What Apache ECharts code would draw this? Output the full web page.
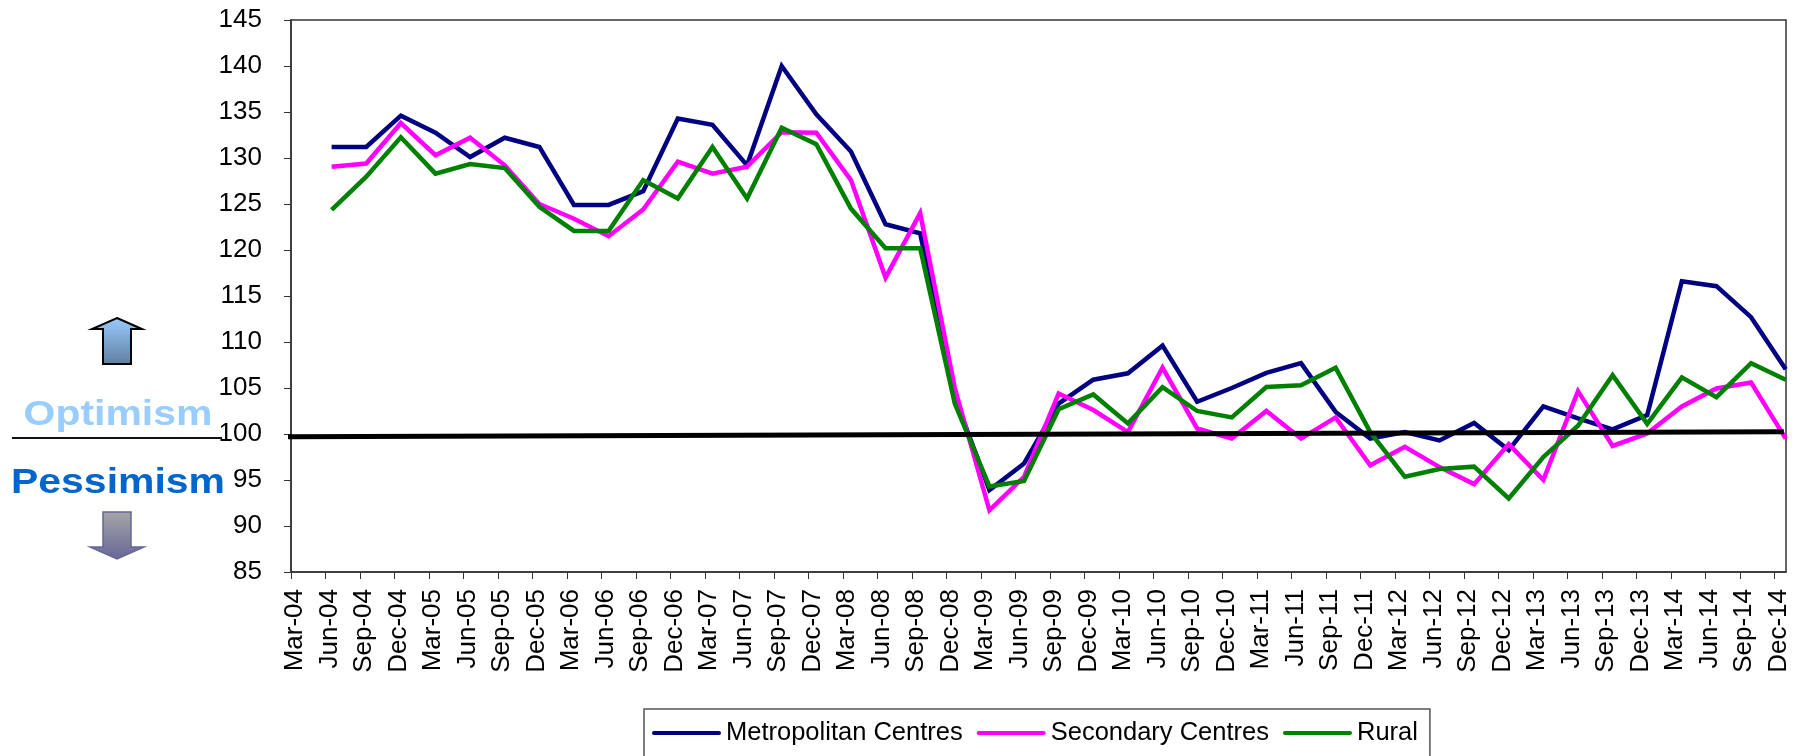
<!DOCTYPE html>
<html><head><meta charset="utf-8">
<style>html,body{margin:0;padding:0;background:#fff}#c{width:1793px;height:756px}</style>
<script src="https://cdn.jsdelivr.net/npm/echarts@6/dist/echarts.min.js"></script>
</head><body><div id="c"></div>
<script>
const categories = ["Mar-04","Jun-04","Sep-04","Dec-04","Mar-05","Jun-05","Sep-05","Dec-05","Mar-06","Jun-06","Sep-06","Dec-06","Mar-07","Jun-07","Sep-07","Dec-07","Mar-08","Jun-08","Sep-08","Dec-08","Mar-09","Jun-09","Sep-09","Dec-09","Mar-10","Jun-10","Sep-10","Dec-10","Mar-11","Jun-11","Sep-11","Dec-11","Mar-12","Jun-12","Sep-12","Dec-12","Mar-13","Jun-13","Sep-13","Dec-13","Mar-14","Jun-14","Sep-14","Dec-14"];
const metropolitan = [null,131.2,131.2,134.6,132.75,130.1,132.2,131.2,124.9,124.9,126.4,134.3,133.6,129.2,140.0,134.75,130.7,122.8,121.8,104.0,93.9,96.8,103.3,105.9,106.6,109.6,103.5,105.0,106.65,107.7,102.4,99.5,100.2,99.3,101.2,98.25,103.0,101.7,100.5,102.05,116.6,116.07,112.7,107.05];
const secondary = [null,129.06,129.4,133.8,130.3,132.2,129.2,125.0,123.4,121.5,124.4,129.6,128.3,129.06,132.8,132.75,127.6,117.0,124.0,105.0,91.7,95.35,104.4,102.6,100.2,107.2,100.6,99.5,102.5,99.5,101.8,96.6,98.6,96.4,94.55,98.9,95.0,104.66,98.7,100.06,103.0,104.95,105.6,99.5];
const rural = [null,124.35,127.97,132.25,128.3,129.35,128.9,124.7,122.07,122.07,127.6,125.6,131.2,125.6,133.3,131.5,124.5,120.2,120.2,103.3,94.3,94.9,102.7,104.3,101.15,105.1,102.5,101.8,105.1,105.3,107.2,100.2,95.35,96.2,96.45,93.0,97.5,100.9,106.4,101.1,106.15,104.0,107.7,105.9];
const referenceLine = [[-0.29,99.7],[43.27,100.25]];
const seriesNames = ["Metropolitan Centres","Secondary Centres","Rural"];
const seriesColors = ["#000080","#FF00FF","#008000"];

const font = "'Liberation Sans', Arial, sans-serif";
const chart = echarts.init(document.getElementById('c'), null, {renderer:'canvas'});
const tickIdx = categories.map((_, i) => i);
const mkLine = (name, data, color) => ({
  name, type:'line', data, xAxisIndex:1, yAxisIndex:1, symbol:'none', connectNulls:false,
  clip:false, lineStyle:{color, width:4.5, join:'miter'}, itemStyle:{color}
});
chart.setOption({
  animation:false,
  backgroundColor:'#fff',
  legend:{
    left:644, top:709, padding:[11,12,20,8],
    itemWidth:69, itemHeight:28, itemGap:14,
    borderColor:'#555', borderWidth:1.5,
    icon:'path://M2 12H67A2 2 0 0 1 67 16H2A2 2 0 0 1 2 12Z',
    data:seriesNames,
    textStyle:{fontFamily:font, fontSize:25.5, color:'#000'}
  },
  grid:[
    {left:291, top:20, width:1495, height:552, show:true, borderColor:'#333', borderWidth:1.5, backgroundColor:'transparent'},
    {left:297, top:20, width:1488.7, height:552, show:false}
  ],
  xAxis:[
    {type:'value', gridIndex:0, min:0, max:1495/34.5, splitLine:{show:false},
     axisLine:{show:true, onZero:false, lineStyle:{color:'#333', width:1.5}},
     axisTick:{show:true, length:7, customValues:tickIdx, lineStyle:{color:'#333'}},
     axisLabel:{customValues:tickIdx, rotate:90, margin:17, verticalAlign:'top', lineHeight:8, fontFamily:font, fontSize:26, color:'#000',
       formatter:v => categories[Math.round(v)] || ''}},
    {type:'category', gridIndex:1, data:categories, boundaryGap:false, show:false}
  ],
  yAxis:[
    {type:'value', gridIndex:0, min:85, max:145, interval:5, splitLine:{show:false},
     axisLine:{show:true, lineStyle:{color:'#333', width:1.5}},
     axisTick:{show:true, length:7, lineStyle:{color:'#333'}},
     axisLabel:{margin:29, padding:[0,0,3,0], fontFamily:font, fontSize:26, color:'#000'}},
    {type:'value', gridIndex:1, min:85, max:145, show:false}
  ],
  series:[
    mkLine(seriesNames[0], metropolitan, seriesColors[0]),
    mkLine(seriesNames[1], secondary, seriesColors[1]),
    mkLine(seriesNames[2], rural, seriesColors[2]),
    {name:'100', type:'line', xAxisIndex:0, yAxisIndex:0, data:referenceLine, symbol:'none', clip:false,
     lineStyle:{color:'#000', width:5}, z:5}
  ],
  graphic:[
    {type:'polygon', shape:{points:[[117,318],[142,329],[131,329],[131,364],[103,364],[103,329],[92,329]]},
     style:{stroke:'#000', lineWidth:2, fill:new echarts.graphic.LinearGradient(0,0,0,1,[{offset:0,color:'#99CCFF'},{offset:1,color:'#5F7F9F'}])}},
    {type:'polygon', shape:{points:[[103,512],[131,512],[131,547],[144,547],[117,559],[90,547],[103,547]]},
     style:{stroke:'#666699', lineWidth:1.5, fill:new echarts.graphic.LinearGradient(0,0,0,1,[{offset:0,color:'#A6A6A6'},{offset:1,color:'#666699'}])}},
    {type:'text', x:118, y:415, scaleX:1.17, style:{text:'Optimism', x:0, y:0, align:'center', verticalAlign:'middle', fill:'#99CCFF', font:"bold 35px 'Liberation Sans'"}},
    {type:'line', shape:{x1:12, y1:438, x2:222, y2:438}, style:{stroke:'#111', lineWidth:2}},
    {type:'text', x:118, y:483, scaleX:1.17, style:{text:'Pessimism', x:0, y:0, align:'center', verticalAlign:'middle', fill:'#0066CC', font:"bold 35px 'Liberation Sans'"}}
  ]
});
</script></body></html>
